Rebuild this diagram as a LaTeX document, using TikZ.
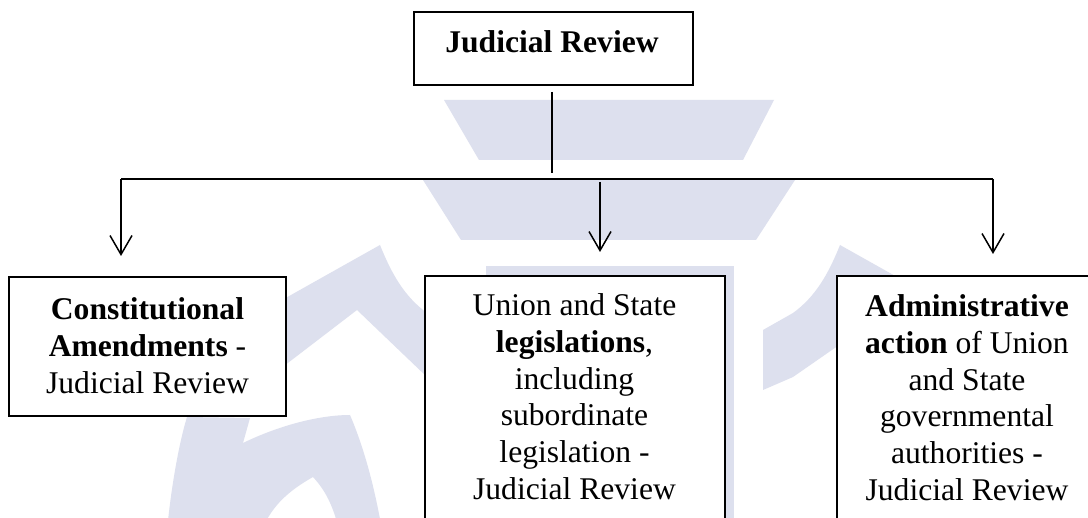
\documentclass[tikz,border=0pt]{standalone}
\usepackage{fontspec}
\setmainfont{Liberation Serif}
\usetikzlibrary{arrows.meta}
\definecolor{wm}{RGB}{221,224,238}
\begin{document}
\begin{tikzpicture}[x=1pt,y=-1pt,
  box/.style={draw=black, line width=2pt, fill=white, inner sep=0pt, rectangle},
  txt/.style={inner sep=0pt, align=center, font=\fontsize{31.6}{36.7}\selectfont},
  arr/.style={line width=1.5pt, -{Straight Barb[length=19pt,width=22pt]}},
  wmark/.style={fill=wm, draw=none}]
\useasboundingbox (0,0) rectangle (1088,518);
\clip (0,0) rectangle (1088,518);
\fill[white] (0,0) rectangle (1088,518);
% watermark
\fill[wmark] (444,100) -- (774,100) -- (743,160) -- (479,160) -- cycle;
\fill[wmark] (423,180) -- (795,180) -- (756,240) -- (461,240) -- cycle;
\fill[wmark] (486,266) rectangle (734,530);
\fill[wmark] (250,318) -- (380,245) .. controls (392,275) and (405,297) .. (427,313) -- (460,332) -- (460,392) -- (427,377) -- (357,310) -- (250,392) -- cycle;
\fill[wmark] (970,318) -- (840,245) .. controls (828,275) and (815,297) .. (793,313) -- (763,330) -- (763,390) -- (793,377) -- (878,318) -- (970,392) -- cycle;
\fill[wmark] (167,530) .. controls (172,480) and (180,440) .. (187,417) -- (250,418) -- (243,443) .. controls (280,425) and (320,415) .. (350,415) .. controls (365,450) and (375,490) .. (382,530) -- (339,530) .. controls (333,505) and (325,490) .. (313,477) .. controls (290,490) and (272,505) .. (262,530) -- cycle;
% boxes
\node[box, minimum width=279pt, minimum height=73pt] (top) at (553.5,48.5) {};
\node[box, minimum width=277pt, minimum height=139pt] (cons) at (147.5,346.5) {};
\node[box, minimum width=300pt, minimum height=284pt] (leg) at (575,418) {};
\node[box, minimum width=303pt, minimum height=284pt] (adm) at (988.5,418) {};
% texts
\node[txt, anchor=base] (topT) at (552,53) {\bfseries Judicial Review};
\node[txt, anchor=north] (consT) at (147.5,297.5) {\textbf{Constitutional}\\ \textbf{Amendments} -\\ Judicial Review};
\node[txt, anchor=north] (legT) at (574.5,293.5) {Union and State\\ \textbf{legislations},\\ including\\ subordinate\\ legislation -\\ Judicial Review};
\node[txt, anchor=north] (admT) at (967,294.5) {\textbf{Administrative}\\ \textbf{action} of Union\\ and State\\ governmental\\ authorities -\\ Judicial Review};
% connectors
\coordinate (bj) at (552,179);
\coordinate (bl) at (121,179);
\coordinate (br) at (993,179);
\coordinate (bm) at (600,179);
\draw[line width=1.3pt, shorten <=6pt, shorten >=6pt] (top.south -| bj) -- (bj);
\draw[line width=1.8pt] (bl) -- (br);
\draw[arr, shorten >=20pt] (bl) -- (bl |- cons.north);
\draw[arr, shorten <=3pt, shorten >=23pt] (bm) -- (bm |- leg.north);
\draw[arr, shorten >=21pt] (br) -- (br |- adm.north);
\end{tikzpicture}
\end{document}
